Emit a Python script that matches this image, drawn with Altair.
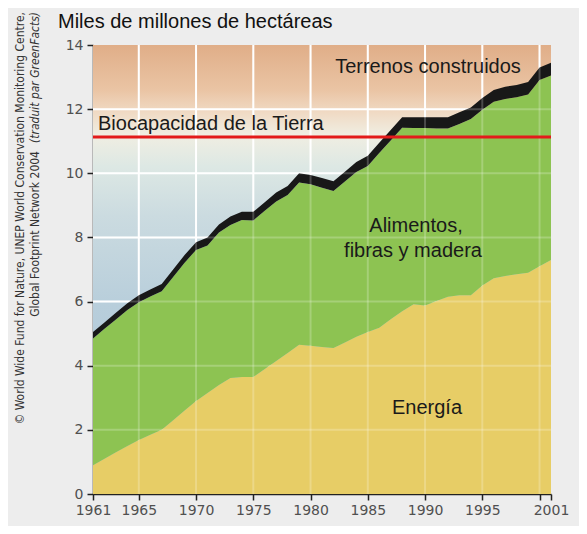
import altair as alt
import pandas as pd

years = list(range(1961, 2002))
energy = [0.90, 1.10, 1.30, 1.50, 1.68, 1.85, 2.00, 2.30, 2.60, 2.90,
          3.15, 3.40, 3.62, 3.65, 3.65, 3.90, 4.15, 4.40, 4.65, 4.62,
          4.58, 4.55, 4.72, 4.90, 5.05, 5.18, 5.45, 5.70, 5.92, 5.88,
          6.02, 6.15, 6.20, 6.20, 6.50, 6.73, 6.80, 6.85, 6.90, 7.10, 7.30]
food = [3.95, 4.05, 4.14, 4.24, 4.30, 4.31, 4.32, 4.47, 4.61, 4.71,
        4.60, 4.75, 4.77, 4.89, 4.88, 4.93, 4.97, 4.92, 5.06, 5.04,
        4.97, 4.90, 5.02, 5.14, 5.18, 5.45, 5.57, 5.72, 5.49, 5.53,
        5.38, 5.25, 5.34, 5.49, 5.48, 5.50, 5.52, 5.52, 5.56, 5.81, 5.75]
built = [0.20, 0.20, 0.21, 0.21, 0.22, 0.22, 0.23, 0.23, 0.24, 0.24,
         0.25, 0.25, 0.26, 0.26, 0.27, 0.27, 0.28, 0.28, 0.29, 0.29,
         0.30, 0.30, 0.31, 0.31, 0.32, 0.32, 0.33, 0.33, 0.34, 0.34,
         0.35, 0.35, 0.36, 0.36, 0.37, 0.37, 0.38, 0.38, 0.39, 0.39, 0.40]
biocapacity = 11.13

x_ticks = [1961, 1965, 1970, 1975, 1980, 1985, 1990, 1995, 2000, 2001]
y_ticks = [0, 2, 4, 6, 8, 10, 12, 14]
grid_years = [1965, 1970, 1975, 1980, 1985, 1990, 1995, 2000]
grid_vals = [2, 4, 6, 8, 10, 12]

W, H = 458, 449
FONT = "Liberation Sans"
AXFONT = "DejaVu Sans"
CREDIT_FONT = "Liberation Sans Narrow, DejaVu Sans Condensed, Roboto Condensed, sans-serif"

df = pd.DataFrame({"year": years, "energy": energy, "food": food, "built": built})
df["e_top"] = df["energy"]
df["f_top"] = df["energy"] + df["food"]
df["b_top"] = df["f_top"] + df["built"]

xs = alt.Scale(domain=[1961, 2001], nice=False, zero=False)
ys = alt.Scale(domain=[0, 14], nice=False)

xaxis = alt.Axis(values=x_ticks, format="d", title=None, grid=False,
                 labelExpr="datum.value == 2000 ? '' : datum.label",
                 labelFlush=False, labelOverlap=False,
                 domainColor="#222", domainWidth=1.5, tickColor="#222",
                 tickWidth=1.5, tickSize=6, labelPadding=3,
                 labelColor="#505050", labelFontSize=14, labelFont=AXFONT)
yaxis = alt.Axis(values=y_ticks, title=None, grid=False,
                 domainColor="#222", domainWidth=1.5, tickColor="#222",
                 tickWidth=1.5, tickSize=6, labelPadding=4,
                 labelColor="#505050", labelFontSize=14, labelFont=AXFONT)

one = pd.DataFrame({"a": [0]})

bg = alt.Chart(one).mark_rect(
    fill=alt.LinearGradient(
        gradient="linear", x1=0, y1=0, x2=0, y2=1,
        stops=[
            alt.GradientStop(color="#e0ae88", offset=0),
            alt.GradientStop(color="#eac4a4", offset=0.1),
            alt.GradientStop(color="#f0dac4", offset=0.15),
            alt.GradientStop(color="#f0eee2", offset=0.2),
            alt.GradientStop(color="#dde8e4", offset=0.27),
            alt.GradientStop(color="#cbdbe0", offset=0.38),
            alt.GradientStop(color="#b8cedb", offset=0.58),
            alt.GradientStop(color="#a9c3d6", offset=1),
        ],
    )
).encode(x=alt.value(0), x2=alt.value(W), y=alt.value(0), y2=alt.value(H))


def vgrid(op):
    return alt.Chart(pd.DataFrame({"year": grid_years})).mark_rule(
        color="white", strokeWidth=2, opacity=op
    ).encode(x=alt.X("year:Q", scale=xs, axis=xaxis))


def hgrid(op):
    return alt.Chart(pd.DataFrame({"v": grid_vals})).mark_rule(
        color="white", strokeWidth=2, opacity=op
    ).encode(y=alt.Y("v:Q", scale=ys, axis=yaxis))


energy_area = alt.Chart(df).mark_area(color="#e7cd66").encode(
    x=alt.X("year:Q", scale=xs, axis=xaxis),
    y=alt.Y("e_top:Q", scale=ys, axis=yaxis),
)
food_area = alt.Chart(df).mark_area(color="#8dc352").encode(
    x=alt.X("year:Q", scale=xs, axis=xaxis),
    y=alt.Y("f_top:Q", scale=ys, axis=yaxis),
    y2="e_top:Q",
)
built_area = alt.Chart(df).mark_area(color="#181818").encode(
    x=alt.X("year:Q", scale=xs, axis=xaxis),
    y=alt.Y("b_top:Q", scale=ys, axis=yaxis),
    y2="f_top:Q",
)
bio_rule = alt.Chart(pd.DataFrame({"v": [biocapacity]})).mark_rule(
    color="#e31b1b", strokeWidth=3
).encode(y=alt.Y("v:Q", scale=ys, axis=yaxis))


def label(txt, x, y, size=20, align="center", baseline="middle", angle=0,
          font=FONT, style="normal", color="#1a1a1a"):
    return alt.Chart(pd.DataFrame({"t": [txt]})).mark_text(
        align=align, baseline=baseline, fontSize=size, font=font,
        fontStyle=style, color=color, angle=angle
    ).encode(x=alt.value(x), y=alt.value(y), text="t:N")


texts = [
    label("Miles de millones de hectáreas", -35, -17, size=20, align="left",
          baseline="alphabetic", color="#111"),
    label("Terrenos construidos", 335, 22),
    label("Biocapacidad de la Tierra", 5, 79, align="left"),
    label("Alimentos,", 323, 181),
    label("fibras y madera", 320, 206),
    label("Energía", 334, 363),
    label("© World Wide Fund for Nature, UNEP World Conservation Monitoring Centre,",
          -73, -33, size=12, align="right", angle=270, font=CREDIT_FONT, color="#333"),
    label("(traduit par GreenFacts)", -58, -33, size=12, align="right", angle=270,
          font=CREDIT_FONT, style="italic", color="#333"),
    label("Global Footprint Network 2004", -58, 106, size=12, align="right", angle=270,
          font=CREDIT_FONT, color="#333"),
]

chart = alt.layer(
    bg, vgrid(1), hgrid(1), energy_area, food_area, built_area,
    vgrid(0.22), hgrid(0.22), bio_rule, *texts
).properties(
    width=W, height=H,
    autosize=alt.AutoSizeParams(type="none"),
    padding={"left": 85, "top": 37, "right": 28, "bottom": 32},
    background="#ededed",
).configure_view(stroke=None)

chart.save("out.html", embed_options={"renderer": "svg", "actions": False})
